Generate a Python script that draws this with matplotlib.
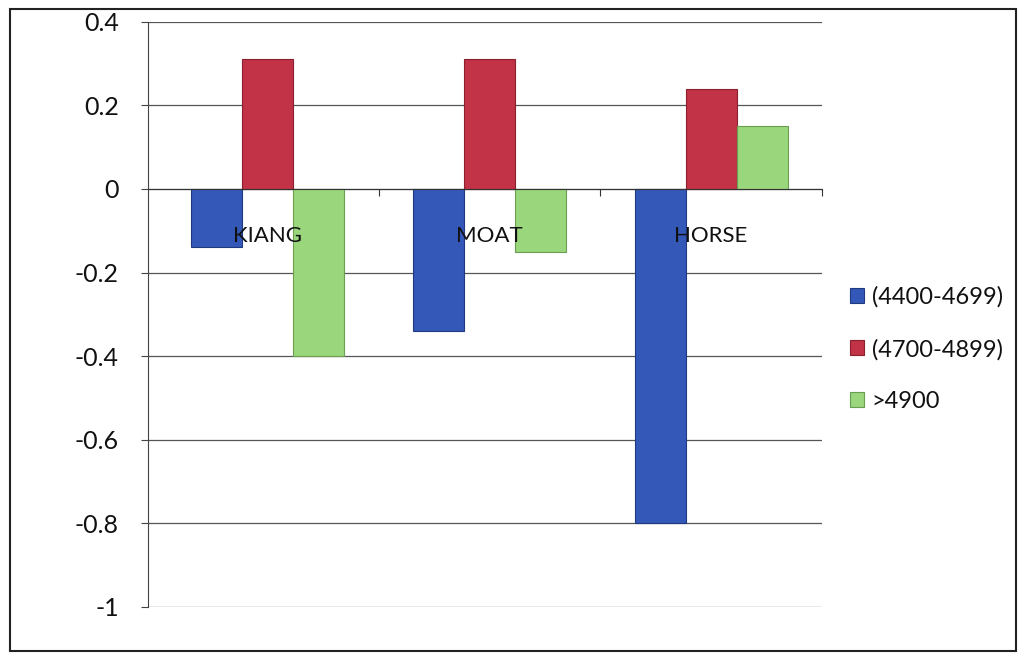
import numpy as np
import matplotlib.pyplot as plt
from matplotlib.patches import Rectangle

# ---- data ----
categories = ["KIANG", "MOAT", "HORSE"]
series_names = ["(4400-4699)", "(4700-4899)", ">4900"]
vals_4400 = [-0.14, -0.34, -0.80]
vals_4700 = [0.31, 0.31, 0.24]
vals_4900 = [-0.40, -0.15, 0.15]
y_ticks = [0.4, 0.2, 0, -0.2, -0.4, -0.6, -0.8, -1]

colors = ["#3458b8", "#c23347", "#9ad67c"]
edges = ["#1f3a80", "#8a1f2e", "#6a9e50"]

plt.rcParams['font.family'] = ['Lato', 'DejaVu Sans']

fig = plt.figure(figsize=(10.21, 6.59), dpi=100)
ax = fig.add_axes([0.145, 0.079, 0.66, 0.888])

x = np.arange(len(categories))
w = 0.23
for i, (vals, name) in enumerate(zip([vals_4400, vals_4700, vals_4900], series_names)):
    ax.bar(x + (i - 1) * w, vals, w, color=colors[i], edgecolor=edges[i],
           linewidth=0.8, label=name, zorder=3)

ax.set_xlim(-0.54, 2.46)
ax.set_ylim(-1, 0.4)
ax.set_yticks(y_ticks)
ax.set_yticklabels([f"{t:g}" for t in y_ticks], fontsize=18, color="#111111")
ax.yaxis.grid(True, color="#555555", linewidth=0.9, zorder=0)
ax.tick_params(axis='y', length=5, color="#444444", pad=16)

# category axis sits at zero
ax.spines['bottom'].set_position(('data', 0))
ax.spines['bottom'].set_color("#333333")
ax.spines['bottom'].set_zorder(4)
ax.spines['left'].set_color("#444444")
ax.spines['top'].set_visible(False)
ax.spines['right'].set_visible(False)
ax.set_xticks([0.5, 1.5, 2.5])
ax.set_xticklabels([])
ax.tick_params(axis='x', direction='out', length=5, color="#333333")

for xi, cat in zip(x, categories):
    ax.annotate(cat, (xi, 0), xytext=(0, -27), textcoords='offset points',
                ha='center', va='top', fontsize=16, color="#111111", zorder=5)

fig.legend(loc='center left', bbox_to_anchor=(0.812, 0.47), frameon=False,
           fontsize=17, handlelength=0.6, handleheight=0.6, handletextpad=0.3,
           labelspacing=1.3, labelcolor="#111111")

# outer chart border
fig.patches.append(Rectangle((0.01, 0.012), 0.985, 0.975, transform=fig.transFigure,
                             fill=False, edgecolor="#222222", linewidth=1.5))

fig.savefig("out.png", dpi=100)
